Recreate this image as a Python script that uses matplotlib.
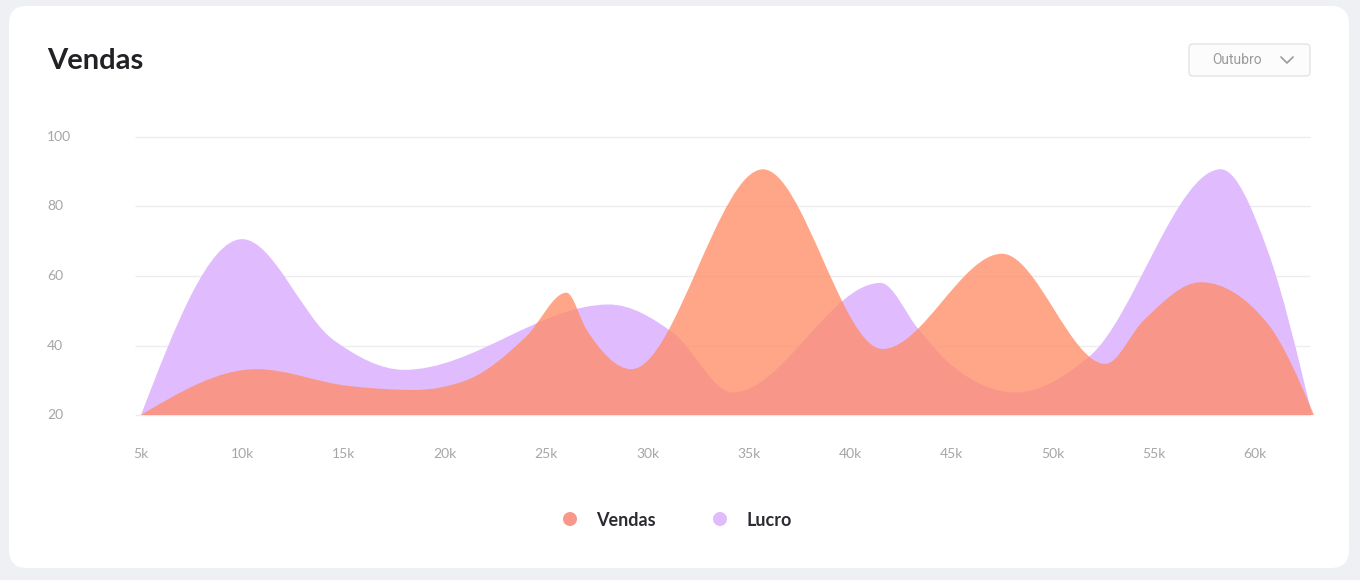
import matplotlib
matplotlib.use('Agg')
import matplotlib.pyplot as plt
import matplotlib.transforms as mtransforms
import numpy as np
from matplotlib.path import Path
from matplotlib.patches import PathPatch, FancyBboxPatch, Circle

# values (x in thousands)
vendas_x = [5, 10.7, 15.2, 18.5, 21.1, 24.0, 26.0, 27.0, 29.2, 35.7, 41.6, 47.5, 52.6, 54.5, 57.3, 60.6, 62.9]
vendas_y = [20, 33.2, 28.4, 27.2, 30.1, 42.5, 55.2, 44.5, 33.2, 90.7, 39.0, 66.4, 34.7, 47.3, 58.2, 46.4, 20]

lucro_x = [5, 10.0, 14.5, 18.0, 28.1, 31.3, 34.2, 41.5, 43.4, 44.9, 48.2, 51.8, 58.3, 60.6, 62.8]
lucro_y = [20, 70.6, 41.6, 33.0, 51.8, 43.5, 26.5, 58.0, 44.5, 34.9, 26.5, 36.8, 90.7, 67.5, 20]

y_ticks = [20, 40, 60, 80, 100]
x_ticks = [5, 10, 15, 20, 25, 30, 35, 40, 45, 50, 55, 60]
x_labels = ['5k', '10k', '15k', '20k', '25k', '30k', '35k', '40k', '45k', '50k', '55k', '60k']

series_names = ['Vendas', 'Lucro']
months = 'Outubro'

c_vendas = (255 / 255, 142 / 255, 106 / 255)
c_lucro = '#E0BBFD'
c_vendas_legend = '#F8978A'


def monotone_area(xs, ys, base):
    # smooth monotone curve (same idea as d3 curveMonotoneX) as bezier path
    xs = np.asarray(xs, float)
    ys = np.asarray(ys, float)
    n = len(xs)
    h = np.diff(xs)
    s = np.diff(ys) / h
    t = np.zeros(n)
    for i in range(1, n - 1):
        p = (s[i - 1] * h[i] + s[i] * h[i - 1]) / (h[i - 1] + h[i])
        t[i] = (np.sign(s[i - 1]) + np.sign(s[i])) * min(abs(s[i - 1]), abs(s[i]), 0.5 * abs(p))
    t[0] = (3 * s[0] - t[1]) / 2
    t[-1] = (3 * s[-1] - t[-2]) / 2
    verts = [(xs[0], base), (xs[0], ys[0])]
    codes = [Path.MOVETO, Path.LINETO]
    for i in range(n - 1):
        d = h[i] / 3
        verts += [(xs[i] + d, ys[i] + d * t[i]),
                  (xs[i + 1] - d, ys[i + 1] - d * t[i + 1]),
                  (xs[i + 1], ys[i + 1])]
        codes += [Path.CURVE4] * 3
    verts += [(xs[-1], base), (xs[0], base)]
    codes += [Path.LINETO, Path.CLOSEPOLY]
    return Path(verts, codes)


W, H = 1360, 580
fig = plt.figure(figsize=(W / 100, H / 100), dpi=100)
fig.patch.set_facecolor('#EFF0F4')

# background layer in pixel coords
bg = fig.add_axes([0, 0, 1, 1])
bg.set_xlim(0, W)
bg.set_ylim(H, 0)
bg.axis('off')
bg.add_patch(FancyBboxPatch((9, 6), 1340, 562, boxstyle='round,pad=0,rounding_size=18',
                            fc='white', ec='none'))
bg.text(47, 61, 'Vendas', fontsize=21, fontweight='bold', color='#222226',
        family='Lato', va='center', ha='left')

# dropdown
bg.add_patch(FancyBboxPatch((1189, 44), 121, 32, boxstyle='round,pad=0,rounding_size=4',
                            fc='#FCFCFD', ec='#E2E3E7', lw=1))
bg.text(1237, 60, months, fontsize=10, color='#9A9A9E', family='Roboto', va='center', ha='center')
bg.plot([1281, 1287, 1293], [57, 63, 57], color='#9A9A9E', lw=1.2, solid_capstyle='round')

# legend
for cx, name, col in [(570, series_names[0], c_vendas_legend), (720, series_names[1], c_lucro)]:
    bg.add_patch(Circle((cx, 519), 7, fc=col, ec='none'))
    bg.text(cx + 26, 520, name, fontsize=13, fontweight='bold', color='#2B2B33',
            family='Lato', va='center', ha='left')

# chart area
px_per_k = 20.26
x0 = 5 + (135 - 141) / px_per_k
x1 = 5 + (1316 - 141) / px_per_k
ax = fig.add_axes([135 / W, (H - 418.5) / H, 1181 / W, 285 / H])
ax.set_xlim(x0, x1)
ax.set_ylim(19, 101)
ax.axis('off')

ax.hlines(y_ticks, x0, 5 + (1310 - 141) / px_per_k, color='#EDEDEF', lw=1, zorder=1)

ax.add_patch(PathPatch(monotone_area(lucro_x, lucro_y, 20), fc=c_lucro, ec='none', zorder=2))
ax.add_patch(PathPatch(monotone_area(vendas_x, vendas_y, 20), fc=c_vendas, alpha=0.79,
                       ec='none', zorder=3))

ytrans = mtransforms.blended_transform_factory(fig.transFigure, ax.transData)
for v in y_ticks:
    ax.text(47 / W, v, str(v), transform=ytrans, fontsize=10, color='#A6A6AA',
            family='Lato', va='center', ha='left', clip_on=False)

xtrans = mtransforms.blended_transform_factory(ax.transData, fig.transFigure)
for v, lab in zip(x_ticks, x_labels):
    ax.text(v, (H - 454) / H, lab, transform=xtrans, fontsize=10, color='#A6A6AA',
            family='Lato', va='center', ha='center', clip_on=False)

fig.savefig('out.png', dpi=100, facecolor=fig.get_facecolor())
